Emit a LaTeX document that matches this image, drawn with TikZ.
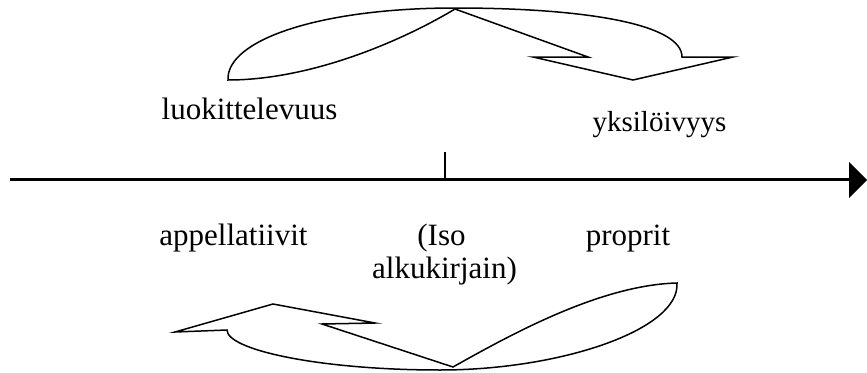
\documentclass[tikz,border=0pt]{standalone}
\usepackage{fontspec}
\setmainfont{Liberation Serif}
\begin{document}
\begin{tikzpicture}[x=1pt,y=-1pt,
  lbl/.style={anchor=base,inner sep=0pt,font=\fontsize{31}{36}\selectfont},
  lblsmall/.style={anchor=base,inner sep=0pt,font=\fontsize{29}{34}\selectfont},
  shapeline/.style={draw=black,line width=1.5pt,line join=miter},
  axisline/.style={draw=black,line width=3pt},
  tickline/.style={draw=black,line width=1.2pt}]
\useasboundingbox (0,0) rectangle (867,372);
% top curved arrow
\draw[shapeline] (228,80) .. controls (226,40) and (320,8) .. (455,8)
  .. controls (590,8) and (682,25) .. (682,57)
  -- (733,57) -- (633,80) -- (533,57) -- (588,57)
  -- (455,9)
  .. controls (400,42) and (310,80) .. (228,80) -- cycle;
% bottom curved arrow
\draw[shapeline] (677,283) .. controls (680,330) and (560,370) .. (440,370)
  .. controls (320,370) and (227,350) .. (227,330)
  -- (175,332) -- (273,304) -- (375,323) -- (322,324)
  -- (453,367)
  .. controls (510,335) and (600,285) .. (677,283) -- cycle;
% axis
\coordinate (axL) at (10,179);
\coordinate (axR) at (850,179);
\coordinate (tickT) at (445,152);
\coordinate (tickB) at (445,178);
\draw[axisline] (axL) -- (axR);
\fill[black] (849,162) -- (867,180) -- (849,198) -- cycle;
\draw[tickline] (tickT) -- (tickB);
% labels
\node[lbl] (luok) at (249.5,119) {luokittelevuus};
\node[lblsmall] (yks) at (659.5,131) {yksilöivyys};
\node[lbl] (app) at (233.5,245) {appellatiivit};
\node[lbl] (iso) at (441.5,245) {(Iso};
\node[lbl] (alku) at (444.5,278) {alkukirjain)};
\node[lbl] (prop) at (628,245) {proprit};
\end{tikzpicture}
\end{document}
